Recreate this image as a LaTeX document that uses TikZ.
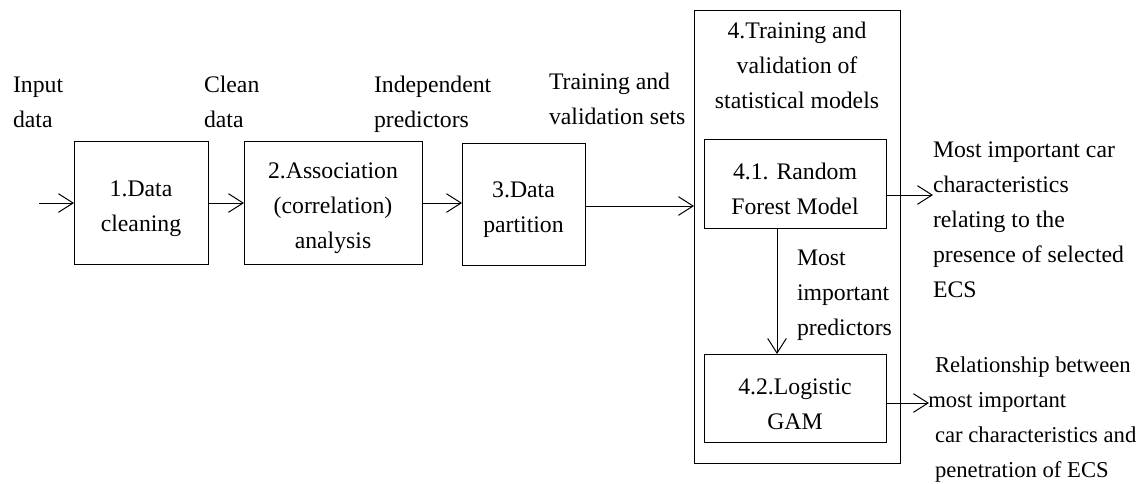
\documentclass[tikz,border=0pt]{standalone}
\usepackage{fontspec}
\setmainfont{Liberation Serif}
\usetikzlibrary{arrows.meta}
\begin{document}
\begin{tikzpicture}[x=0.75pt,y=-0.75pt,
  every node/.style={inner sep=0pt,outer sep=0pt,font=\fontsize{17.8}{26.25}\selectfont},
  box/.style={draw,line width=0.75pt},
  btxt/.style={align=center,yshift=-4.5pt},
  lbl/.style={align=left,anchor=west},
  conn/.style={line width=0.75pt,-{Straight Barb[length=11pt,width=14pt,line width=0.75pt]}}]
\useasboundingbox (0,0) rectangle (1142,483);
% boxes
\node[box,minimum width=134pt*0.75,minimum height=123pt*0.75] (b1) at (141,202.5) {};
\node[btxt] (b1t) at (b1.center) {1.Data\\cleaning};
\node[box,minimum width=178pt*0.75,minimum height=123pt*0.75] (b2) at (333,202.5) {};
\node[btxt] (b2t) at (b2.center) {2.Association\\(correlation)\\analysis};
\node[box,minimum width=123pt*0.75,minimum height=122pt*0.75] (b3) at (523.5,204) {};
\node[btxt] (b3t) at (b3.center) {3.Data\\partition};
\node[box,minimum width=206pt*0.75,minimum height=453pt*0.75] (b4) at (797,236.5) {};
\node[align=center] (t4) at (797,65) {4.Training and\\validation of\\statistical models};
\node[box,minimum width=182pt*0.75,minimum height=89pt*0.75] (b41) at (795,183.5) {};
\node[btxt,yshift=0.8pt] (b41t) at (b41.center) {4.1. Random\\Forest Model};
\node[box,minimum width=182pt*0.75,minimum height=88pt*0.75] (b42) at (795,398) {};
\node[btxt] (b42t) at (b42.center) {4.2.Logistic\\GAM};
% labels
\node[lbl] (l1) at (13,102) {Input\\data};
\node[lbl] (l2) at (204,102) {Clean\\data};
\node[lbl] (l3) at (374,104) {Independent\\predictors};
\node[lbl] (l4) at (549,99) {Training and\\validation sets};
\node[lbl] (l5) at (797,295) {Most\\important\\predictors};
\node[lbl] (o1) at (933,220) {Most important car\\characteristics\\relating to the\\presence of selected\\ECS};
\node[lbl,font=\fontsize{17}{26.25}\selectfont] (o2) at (935,420) {Relationship between\\\hspace*{-5pt}most important\\car characteristics and\\penetration of ECS};
% connectors
\coordinate (in) at (39,203);
\coordinate (p1) at (933,195);
\coordinate (p2) at (929,403);
\draw[conn] (in) -- (in -| b1.west);
\draw[conn] (b1.east |- in) -- (b2.west |- in);
\draw[conn] (b2.east |- in) -- (b3.west |- in);
\draw[conn] (b3.east |- 0,206) -- (b4.west |- 0,206);
\draw[conn] (b41.east |- p1) -- (p1);
\draw[conn] (b42.east |- p2) -- (p2);
\draw[conn] (b41.south -| 777,0) -- (b42.north -| 777,0);
\end{tikzpicture}
\end{document}
